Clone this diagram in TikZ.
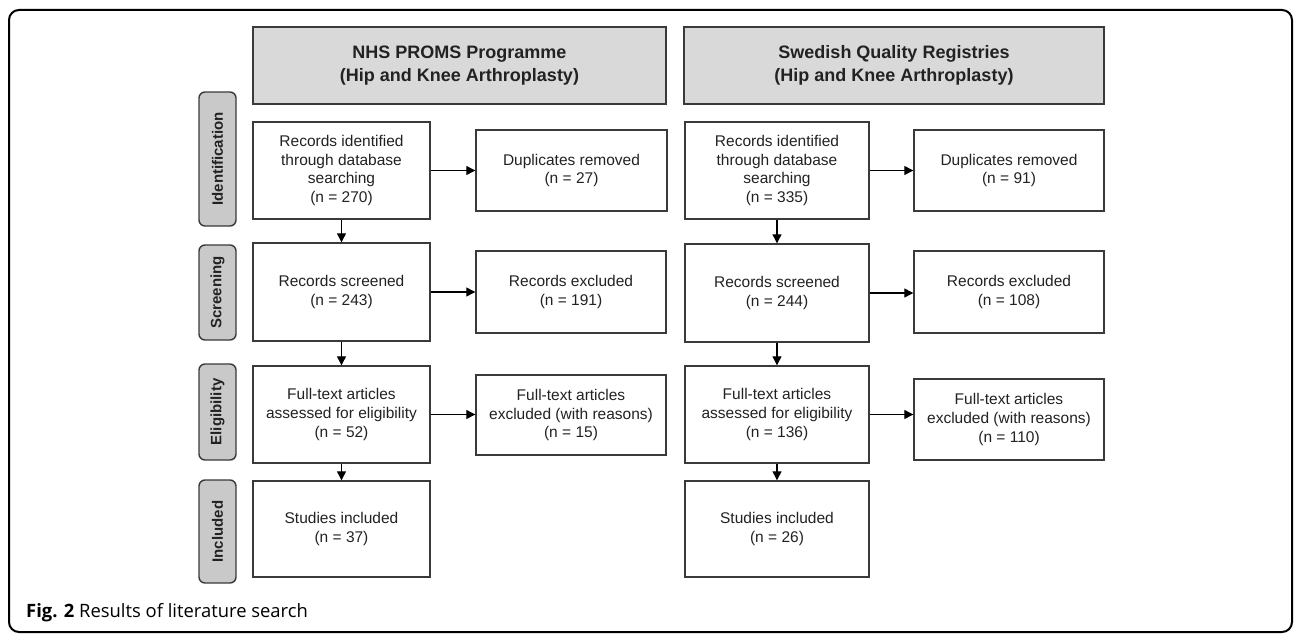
\documentclass[tikz,border=0pt]{standalone}
\usepackage{fontspec}
\setmainfont{Liberation Sans}
\newfontfamily\capfont{Open Sans}
\usetikzlibrary{arrows.meta}
\definecolor{edge}{HTML}{3A3A3A}
\definecolor{hdrfill}{HTML}{D9D9D9}
\definecolor{labfill}{HTML}{C9C9C9}
\definecolor{txt}{HTML}{222222}
\tikzset{
  every node/.style={text=txt},
  box/.style={draw=edge, line width=1.4pt, fill=white, align=center, inner sep=0pt,
    font=\fontsize{15.5}{18.7}\selectfont},
  hdr/.style={draw=edge, line width=1.4pt, fill=hdrfill, align=center, inner sep=0pt,
    font=\fontsize{18}{23}\selectfont\bfseries},
  lab/.style={draw=edge, line width=1.4pt, fill=labfill, rounded corners=6pt, rotate=90,
    inner sep=0pt, minimum height=37pt, font=\fontsize{15}{18}\selectfont\bfseries},
  arr/.style={draw=black, line width=1.2pt, -{Triangle[length=9pt,width=9pt]}},
}
\begin{document}
\begin{tikzpicture}[x=1pt,y=-1pt]
\useasboundingbox (0,0) rectangle (1296,634);
\draw[line width=2pt, rounded corners=10pt] (9,10) rectangle (1292,632);

% headers
\node[hdr, minimum width=413pt, minimum height=77pt] (hdrL) at (459.5,65.5) {NHS PROMS Programme\\(Hip and Knee Arthroplasty)};
\node[hdr, minimum width=420pt, minimum height=77pt] (hdrR) at (894,65.5) {Swedish Quality Registries\\(Hip and Knee Arthroplasty)};

% side labels
\node[lab, minimum width=134pt] (labId) at (217.5,159) {Identification};
\node[lab, minimum width=95pt] (labScr) at (217.5,292.5) {Screening};
\node[lab, minimum width=96pt] (labEl) at (217.5,412) {Eligibility};
\node[lab, minimum width=103pt] (labInc) at (217.5,531.5) {Included};

% left column
\node[box, minimum width=177pt, minimum height=97pt] (idL) at (341.5,170.5) {Records identified\\through database\\searching\\(n = 270)};
\node[box, minimum width=191pt, minimum height=81pt] (dupL) at (571.5,170.5) {Duplicates removed\\(n = 27)};
\node[box, minimum width=177pt, minimum height=98pt] (scrL) at (341.5,292) {Records screened\\(n = 243)};
\node[box, minimum width=190pt, minimum height=82pt] (excL) at (571,292) {Records excluded\\(n = 191)};
\node[box, minimum width=177pt, minimum height=97pt] (elL) at (341.5,414.5) {Full-text articles\\assessed for eligibility\\(n = 52)};
\node[box, minimum width=190pt, minimum height=80pt] (ftL) at (571,415) {Full-text articles\\excluded (with reasons)\\(n = 15)};
\node[box, minimum width=177pt, minimum height=96pt] (incL) at (341.5,529) {Studies included\\(n = 37)};

% right column
\node[box, minimum width=184pt, minimum height=97pt] (idR) at (777,170.5) {Records identified\\through database\\searching\\(n = 335)};
\node[box, minimum width=190pt, minimum height=81pt] (dupR) at (1009,170.5) {Duplicates removed\\(n = 91)};
\node[box, minimum width=184pt, minimum height=98pt] (scrR) at (777,293) {Records screened\\(n = 244)};
\node[box, minimum width=190pt, minimum height=82pt] (excR) at (1009,292) {Records excluded\\(n = 108)};
\node[box, minimum width=184pt, minimum height=97pt] (elR) at (777,414.5) {Full-text articles\\assessed for eligibility\\(n = 136)};
\node[box, minimum width=190pt, minimum height=81pt] (ftR) at (1009,419.5) {Full-text articles\\excluded (with reasons)\\(n = 110)};
\node[box, minimum width=184pt, minimum height=96pt] (incR) at (777,529) {Studies included\\(n = 26)};

% arrows left
\draw[arr] (idL.south) -- (scrL.north);
\draw[arr] (scrL.south) -- (elL.north);
\draw[arr] (elL.south) -- (incL.north);
\draw[arr] (idL.east) -- (idL.east -| dupL.west);
\draw[arr] (scrL.east) -- (scrL.east -| excL.west);
\draw[arr] (elL.east) -- (elL.east -| ftL.west);
% arrows right
\draw[arr] (idR.south) -- (scrR.north);
\draw[arr] (scrR.south) -- (elR.north);
\draw[arr] (elR.south) -- (incR.north);
\draw[arr] (idR.east) -- (idR.east -| dupR.west);
\draw[arr] (scrR.east) -- (scrR.east -| excR.west);
\draw[arr] (elR.east) -- (elR.east -| ftR.west);

% caption
\node[anchor=base west, inner sep=0pt, text=black, font=\capfont\fontsize{18.4}{21}\selectfont] (cap) at (26,617) {\textbf{Fig. 2} Results of literature search};
\end{tikzpicture}
\end{document}
